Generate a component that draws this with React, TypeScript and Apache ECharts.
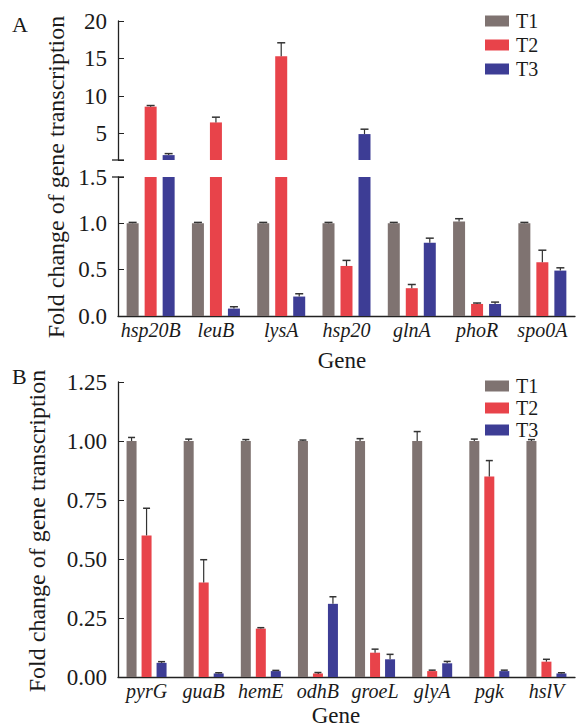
import React, { useEffect, useRef } from "react";
import * as echarts from "echarts";

// ---------- data ----------
const genesA = ["hsp20B", "leuB", "lysA", "hsp20", "glnA", "phoR", "spo0A"];
const aT1 = [1.0, 1.0, 1.0, 1.0, 1.0, 1.02, 1.0];
const aT1Err = [0.01, 0.01, 0.01, 0.01, 0.01, 0.03, 0.01];
const aT2 = [8.6, 6.5, 15.3, 0.54, 0.3, 0.13, 0.58];
const aT2Err = [0.15, 0.7, 1.8, 0.06, 0.04, 0.01, 0.13];
const aT3 = [2.15, 0.08, 0.21, 4.95, 0.79, 0.13, 0.49];
const aT3Err = [0.2, 0.02, 0.03, 0.65, 0.05, 0.02, 0.03];

const genesB = ["pyrG", "guaB", "hemE", "odhB", "groeL", "glyA", "pgk", "hslV"];
const bT1 = [1.0, 1.0, 1.0, 1.0, 1.0, 1.0, 1.0, 1.0];
const bT1Err = [0.015, 0.008, 0.006, 0.004, 0.01, 0.04, 0.008, 0.006];
const bT2 = [0.6, 0.4, 0.205, 0.015, 0.103, 0.025, 0.85, 0.065];
const bT2Err = [0.115, 0.097, 0.004, 0.004, 0.015, 0.004, 0.067, 0.01];
const bT3 = [0.06, 0.015, 0.025, 0.31, 0.075, 0.058, 0.025, 0.015];
const bT3Err = [0.005, 0.003, 0.003, 0.03, 0.021, 0.008, 0.004, 0.003];

const seriesNames = ["T1", "T2", "T3"];
const upperTicks = [1.5, 5, 10, 15, 20];
const upperLabels = [5, 10, 15, 20];
const BREAK_VALUE = 1.5;

// ---------- style / layout ----------
const COLORS = ["#7f7371", "#e8434a", "#3d3d95"];
const FONT = "Liberation Serif";
const TEXT = "#1a1a1a";
const LEFT = 118;
const PLOT_W = 457;
const A_UP = { top: 21, height: 139 };
const A_LO = { top: 177, height: 139 };
const B_G = { top: 382, height: 295 };
const A_BAR_W = 12;
const B_BAR_W = 10;
const LEGEND_A_CENTERS = [22, 46, 70];
const LEGEND_B_CENTERS = [387, 409, 431];
const LEGEND_FS = 20;

function errSeries(
  name: string,
  axisIdx: number,
  values: number[],
  errs: number[],
  offset: number,
  capW: number,
  keep: (v: number) => boolean
) {
  const data = values
    .map((v, i) => [i, v, errs[i]])
    .filter((d) => keep(d[1]));
  return {
    type: "custom",
    name,
    xAxisIndex: axisIdx,
    yAxisIndex: axisIdx,
    data,
    silent: true,
    z: 5,
    encode: { x: 0, y: 1 },
    renderItem: (params: any, api: any) => {
      const i = api.value(0);
      const v = api.value(1);
      const e = api.value(2);
      const p0 = api.coord([i, v]);
      const p1 = api.coord([i, v + e]);
      const x = p0[0] + offset;
      return {
        type: "group",
        children: [
          {
            type: "line",
            shape: { x1: x, y1: p0[1], x2: x, y2: p1[1] },
            style: { stroke: "#333", lineWidth: 1.2 },
          },
          {
            type: "line",
            shape: { x1: x - capW / 2, y1: p1[1], x2: x + capW / 2, y2: p1[1] },
            style: { stroke: "#333", lineWidth: 1.5 },
          },
        ],
      };
    },
  };
}

const axisLineStyle = { lineStyle: { color: "#222", width: 1.3 } };

export default function App() {
  const ref = useRef<HTMLDivElement>(null);

  useEffect(() => {
    if (!ref.current) return;
    const chart = echarts.init(ref.current, null, { renderer: "svg" });

    const aSets = [
      [aT1, aT1Err],
      [aT2, aT2Err],
      [aT3, aT3Err],
    ];
    const bSets = [
      [bT1, bT1Err],
      [bT2, bT2Err],
      [bT3, bT3Err],
    ];
    const aOff = A_BAR_W * 1.5;
    const bOff = B_BAR_W * 1.5;

    const series: any[] = [];
    aSets.forEach(([vals], k) => {
      series.push({
        type: "bar",
        name: seriesNames[k],
        xAxisIndex: 0,
        yAxisIndex: 0,
        barWidth: A_BAR_W,
        barGap: "50%",
        itemStyle: { color: COLORS[k] },
        data: vals.map((v) => (v > BREAK_VALUE ? v : "-")),
      });
      series.push({
        type: "bar",
        name: seriesNames[k],
        xAxisIndex: 1,
        yAxisIndex: 1,
        barWidth: A_BAR_W,
        barGap: "50%",
        itemStyle: { color: COLORS[k] },
        data: vals,
      });
    });
    bSets.forEach(([vals], k) => {
      series.push({
        type: "bar",
        name: seriesNames[k],
        xAxisIndex: 2,
        yAxisIndex: 2,
        barWidth: B_BAR_W,
        barGap: "50%",
        itemStyle: { color: COLORS[k] },
        data: vals,
      });
    });
    aSets.forEach(([vals, errs], k) => {
      const off = (k - 1) * aOff;
      series.push(errSeries("errAU" + k, 0, vals, errs, off, 8, (v) => v > BREAK_VALUE));
      series.push(errSeries("errAL" + k, 1, vals, errs, off, 8, (v) => v <= BREAK_VALUE));
    });
    bSets.forEach(([vals, errs], k) => {
      const off = (k - 1) * bOff;
      series.push(errSeries("errB" + k, 2, vals, errs, off, 7, () => true));
    });

    const catAxis = (idx: number, data: string[], show: boolean, margin: number) => ({
      type: "category",
      gridIndex: idx,
      data,
      show,
      boundaryGap: true,
      axisLine: { show: true, ...axisLineStyle },
      axisTick: { show: true, inside: true, alignWithLabel: true, length: 5, lineStyle: { color: "#222" } },
      axisLabel: {
        show: true,
        interval: 0,
        margin,
        fontFamily: FONT,
        fontStyle: "italic",
        fontSize: 20,
        color: TEXT,
      },
    });

    const numLabel = (fmt?: (v: number) => string) => ({
      margin: 11,
      fontFamily: FONT,
      fontSize: 23,
      color: TEXT,
      ...(fmt ? { formatter: fmt } : {}),
    });

    const legendItem = (name: string, center: number) => ({
      data: [name],
      orient: "vertical",
      left: 485,
      top: center - LEGEND_FS / 2 - 1,
      padding: 0,
      itemWidth: 24,
      itemHeight: 11,
      icon: "rect",
      selectedMode: false,
      textStyle: { fontFamily: FONT, fontSize: LEGEND_FS, color: TEXT, padding: [0, 0, 0, 2] },
    });

    const option: any = {
      animation: false,
      backgroundColor: "#fff",
      textStyle: { fontFamily: FONT },
      grid: [
        { left: LEFT, width: PLOT_W, top: A_UP.top, height: A_UP.height },
        { left: LEFT, width: PLOT_W, top: A_LO.top, height: A_LO.height },
        { left: LEFT, width: PLOT_W, top: B_G.top, height: B_G.height },
      ],
      xAxis: [
        catAxis(0, genesA, false, 4),
        catAxis(1, genesA, true, 4),
        catAxis(2, genesB, true, 4),
      ],
      yAxis: [
        {
          type: "value",
          gridIndex: 0,
          min: BREAK_VALUE,
          max: 20,
          splitLine: { show: false },
          axisLine: { show: true, ...axisLineStyle },
          axisTick: { show: true, inside: true, length: 6, customValues: upperTicks, lineStyle: { color: "#222" } },
          axisLabel: { ...numLabel(), customValues: upperLabels },
        },
        {
          type: "value",
          gridIndex: 1,
          min: 0,
          max: 1.5,
          interval: 0.5,
          splitLine: { show: false },
          axisLine: { show: true, ...axisLineStyle },
          axisTick: { show: true, inside: true, length: 6, lineStyle: { color: "#222" } },
          axisLabel: numLabel((v: number) => v.toFixed(1)),
        },
        {
          type: "value",
          gridIndex: 2,
          min: 0,
          max: 1.25,
          interval: 0.25,
          splitLine: { show: false },
          axisLine: { show: true, ...axisLineStyle },
          axisTick: { show: true, inside: true, length: 6, lineStyle: { color: "#222" } },
          axisLabel: numLabel((v: number) => v.toFixed(2)),
        },
      ],
      legend: [
        ...seriesNames.map((n, k) => legendItem(n, LEGEND_A_CENTERS[k])),
        ...seriesNames.map((n, k) => legendItem(n, LEGEND_B_CENTERS[k])),
      ],
      graphic: [
        {
          type: "text",
          left: 12,
          top: 13,
          style: { text: "A", font: `22px ${FONT}`, fill: TEXT },
        },
        {
          type: "text",
          left: 12,
          top: 365,
          style: { text: "B", font: `22px ${FONT}`, fill: TEXT },
        },
        {
          type: "text",
          x: 56,
          y: 177,
          rotation: Math.PI / 2,
          style: {
            text: "Fold change of gene transcription",
            font: `24px ${FONT}`,
            fill: TEXT,
            textAlign: "center",
            textVerticalAlign: "middle",
          },
        },
        {
          type: "text",
          x: 37,
          y: 531,
          rotation: Math.PI / 2,
          style: {
            text: "Fold change of gene transcription",
            font: `24px ${FONT}`,
            fill: TEXT,
            textAlign: "center",
            textVerticalAlign: "middle",
          },
        },
        {
          type: "text",
          x: 342,
          y: 360,
          style: { text: "Gene", font: `23px ${FONT}`, fill: TEXT, textAlign: "center", textVerticalAlign: "middle" },
        },
        {
          type: "text",
          x: 336,
          y: 715,
          style: { text: "Gene", font: `23px ${FONT}`, fill: TEXT, textAlign: "center", textVerticalAlign: "middle" },
        },
        {
          type: "line",
          shape: { x1: LEFT - 6, y1: A_UP.top + A_UP.height, x2: LEFT + 6, y2: A_UP.top + A_UP.height },
          style: { stroke: "#222", lineWidth: 1.3 },
        },
        {
          type: "line",
          shape: { x1: LEFT - 6, y1: A_LO.top, x2: LEFT + 6, y2: A_LO.top },
          style: { stroke: "#222", lineWidth: 1.3 },
        },
      ],
      series,
    };

    chart.setOption(option);
    return () => chart.dispose();
  }, []);

  return (
    <div
      ref={ref}
      style={{ position: "fixed", left: 0, top: 0, width: 576, height: 728, background: "#fff" }}
    />
  );
}
